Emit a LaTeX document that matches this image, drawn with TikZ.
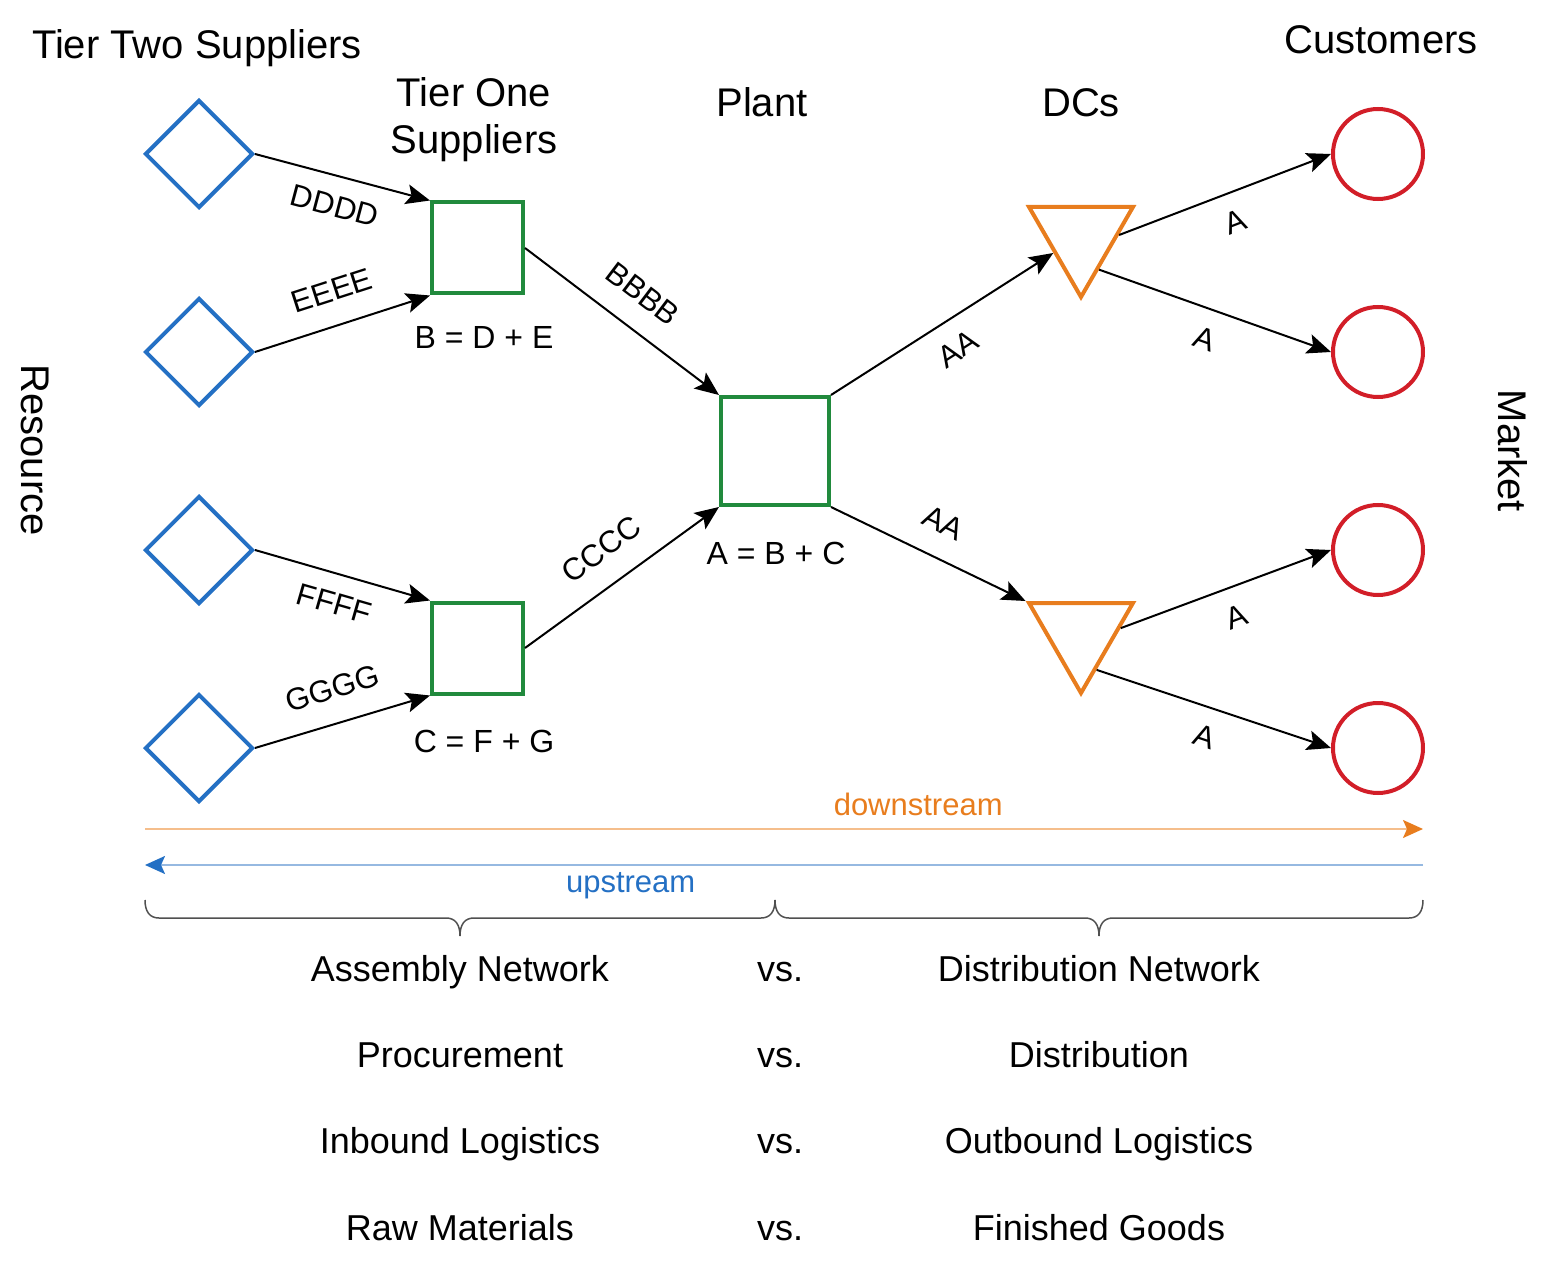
\documentclass[tikz,border=0pt]{standalone}
\usepackage{fontspec}
\setmainfont{Liberation Sans}
\usetikzlibrary{shapes.geometric, arrows.meta}

\definecolor{supblue}{RGB}{36,112,196}
\definecolor{plantgreen}{RGB}{33,138,61}
\definecolor{dcorange}{RGB}{232,125,30}
\definecolor{custred}{RGB}{210,30,40}
\definecolor{dslight}{RGB}{245,190,140}
\definecolor{uslight}{RGB}{150,185,225}
\definecolor{bracegray}{RGB}{80,80,80}

\begin{document}
\begin{tikzpicture}[
        x=0.5pt, y=-0.5pt,
        tier2/.style={
            diamond,
            draw=supblue,
            line width=2pt,
            minimum size=54pt,
            inner sep=0pt
        },
        tier1/.style={
            rectangle,
            draw=plantgreen,
            line width=2pt,
            minimum size=45.5pt,
            inner sep=0pt
        },
        plant/.style={tier1, minimum size=54pt},
        dc/.style={
            regular polygon,
            regular polygon sides=3,
            shape border rotate=180,
            draw=dcorange,
            line width=2pt,
            minimum size=60pt,
            inner sep=0pt
        },
        customer/.style={
            circle,
            draw=custred,
            line width=2pt,
            minimum size=45pt,
            inner sep=0pt
        },
        title/.style={font=\fontsize{20}{23.5}\selectfont, align=center, inner sep=0pt},
        line/.style={draw, -{Stealth[length=12pt, width=10pt, inset=2.5pt]}, line width=1pt},
        lblabove/.style={sloped, above, inner sep=11.5pt, font=\fontsize{15.5}{18}\selectfont},
        lblbelow/.style={sloped, below, inner sep=9pt, font=\fontsize{15.5}{18}\selectfont},
        sum/.style={font=\fontsize{16}{18}\selectfont, anchor=base, inner sep=0pt},
        row/.style={font=\fontsize{18}{22}\selectfont, anchor=base, inner sep=0pt},
        brace/.style={draw=bracegray, line width=0.75pt}
    ]
        \useasboundingbox (0,0) rectangle (1555,1263);

        % titles
        \node [title, anchor=base] (tiertwo) at (197,59) {Tier Two Suppliers};
        \node [title] (tierone) at (474,120) {Tier One\\Suppliers};
        \node [title, anchor=base] (planttitle) at (762,117) {Plant};
        \node [title, anchor=base] (dctitle) at (1081,117) {DCs};
        \node [title, anchor=base] (custtitle) at (1381,54) {Customers};
        \node [title, rotate=-90] (resource) at (35,450) {Resource};
        \node [title, rotate=-90] (market) at (1513,451) {Market};

        % nodes
        \node [tier2] (t2a) at (199,154) {};
        \node [tier2] (t2b) at (199,352) {};
        \node [tier2] (t2c) at (199,550) {};
        \node [tier2] (t2d) at (199,748) {};
        \node [tier1] (t1a) at (477.5,248) {};
        \node [tier1] (t1b) at (477.5,648) {};
        \node [plant] (plant) at (775,451) {};
        \node [dc] (dca) at (1081,237) {};
        \node [dc] (dcb) at (1081,633) {};
        \node [customer] (c1) at (1378,154) {};
        \node [customer] (c2) at (1378,352) {};
        \node [customer] (c3) at (1378,550) {};
        \node [customer] (c4) at (1378,748) {};

        \node [sum] (sumb) at (484,348) {B = D + E};
        \node [sum] (sumc) at (484,752) {C = F + G};
        \node [sum] (suma) at (776,564) {A = B + C};

        % paths
        \path [line] (t2a.east) -- node[lblbelow] {DDDD} (t1a.north west);
        \path [line] (t2b.east) -- node[lblabove] {EEEE} (t1a.south west);
        \path [line] (t1a.east) -- node[lblabove] {BBBB} (plant.north west);

        \path [line] (t2c.east) -- node[lblbelow] {FFFF} (t1b.north west);
        \path [line] (t2d.east) -- node[lblabove] {GGGG} (t1b.south west);
        \path [line] (t1b.east) -- node[lblabove] {CCCC} (plant.south west);

        \path [line] (plant.north east) -- node[lblbelow] {AA} (dca.210);
        \path [line] (plant.south east) -- node[lblabove] {AA} (dcb.150);

        \path [line] (dca.3) -- node[lblbelow] {A} (c1.west);
        \path [line] (dca.-61) -- node[lblbelow] {A} (c2.west);
        \path [line] (dcb.7) -- node[lblbelow] {A} (c3.west);
        \path [line] (dcb.-67) -- node[lblbelow] {A} (c4.west);

        % downstream / upstream
        \coordinate (dsstart) at (145,829);
        \coordinate (dsend) at (1423,829);
        \coordinate (usstart) at (1423,865);
        \coordinate (usend) at (145,865);
        \path [draw=dslight, line width=1pt, -{Stealth[length=10pt, width=9pt, inset=2pt, color=dcorange]}]
            (dsstart) -- node[pos=0.605, anchor=base, yshift=7pt, text=dcorange, font=\fontsize{15.5}{18}\selectfont] {downstream} (dsend);
        \path [draw=uslight, line width=1pt, -{Stealth[length=10pt, width=9pt, inset=2pt, color=supblue]}]
            (usstart) -- node[pos=0.62, anchor=base, yshift=-13.5pt, text=supblue, font=\fontsize{15.5}{18}\selectfont] {upstream} (usend);

        % braces
        \foreach \a/\b in {145/775, 775/1423} {
            \pgfmathsetmacro\m{(\a+\b)/2}
            \path [brace] (\a,900) .. controls (\a,912) and (\a+5,918) .. (\a+14,918)
                -- (\m-14,918) .. controls (\m-5,918) and (\m,924) .. (\m,936)
                .. controls (\m,924) and (\m+5,918) .. (\m+14,918)
                -- (\b-14,918) .. controls (\b-5,918) and (\b,912) .. (\b,900);
        }

        % comparison rows
        \foreach \lft/\rgt [count=\i] in {Assembly Network/Distribution Network, Procurement/Distribution, Inbound Logistics/Outbound Logistics, Raw Materials/Finished Goods} {
            \pgfmathsetmacro\rowy{981+(\i-1)*86.4}
            \node [row] (left\i) at (460,\rowy) {\lft};
            \node [row] (vs\i) at (780,\rowy) {vs.};
            \node [row] (right\i) at (1099,\rowy) {\rgt};
        }
    \end{tikzpicture}
\end{document}
